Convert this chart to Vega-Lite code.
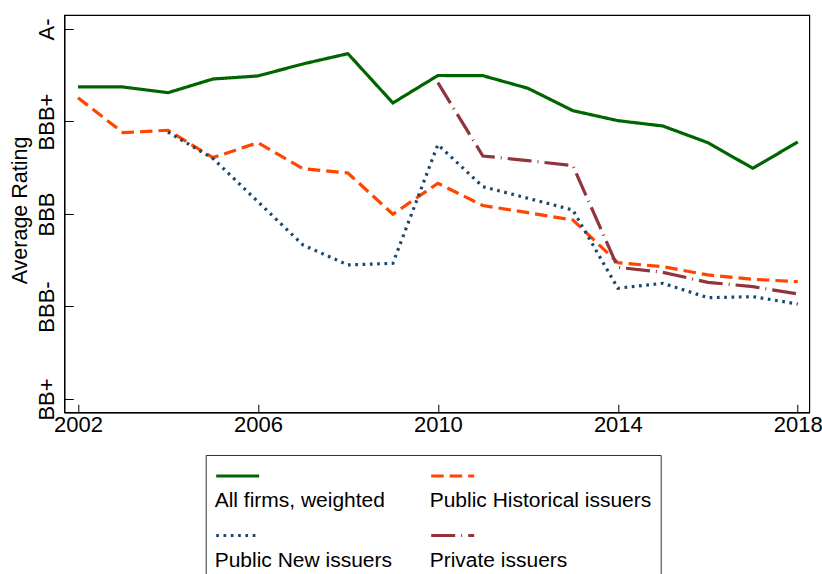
{
  "$schema": "https://vega.github.io/schema/vega-lite/v6.json",
  "autosize": {"type": "none"},
  "padding": {"left": 64.3, "top": 15, "right": 12.5, "bottom": 162},
  "width": 745,
  "height": 397.3,
  "config": {
    "font": "Liberation Sans",
    "view": {"stroke": "#000", "strokeWidth": 1.2},
    "axis": {"grid": false, "domainColor": "#000", "tickColor": "#000", "labelColor": "#000", "titleColor": "#000", "labelFont": "Liberation Sans", "titleFont": "Liberation Sans", "titleFontWeight": "normal"}
  },
  "data": {
    "values": [
      {"year": 2002, "series": "All firms, weighted", "rating": 4.373},
      {"year": 2003, "series": "All firms, weighted", "rating": 4.373},
      {"year": 2004, "series": "All firms, weighted", "rating": 4.311},
      {"year": 2005, "series": "All firms, weighted", "rating": 4.459},
      {"year": 2006, "series": "All firms, weighted", "rating": 4.492},
      {"year": 2007, "series": "All firms, weighted", "rating": 4.622},
      {"year": 2008, "series": "All firms, weighted", "rating": 4.733},
      {"year": 2009, "series": "All firms, weighted", "rating": 4.2},
      {"year": 2010, "series": "All firms, weighted", "rating": 4.497},
      {"year": 2011, "series": "All firms, weighted", "rating": 4.495},
      {"year": 2012, "series": "All firms, weighted", "rating": 4.359},
      {"year": 2013, "series": "All firms, weighted", "rating": 4.117},
      {"year": 2014, "series": "All firms, weighted", "rating": 4.009},
      {"year": 2015, "series": "All firms, weighted", "rating": 3.951},
      {"year": 2016, "series": "All firms, weighted", "rating": 3.771},
      {"year": 2017, "series": "All firms, weighted", "rating": 3.494},
      {"year": 2018, "series": "All firms, weighted", "rating": 3.778},
      {"year": 2002, "series": "Public Historical issuers", "rating": 4.257},
      {"year": 2003, "series": "Public Historical issuers", "rating": 3.879},
      {"year": 2004, "series": "Public Historical issuers", "rating": 3.905},
      {"year": 2005, "series": "Public Historical issuers", "rating": 3.609},
      {"year": 2006, "series": "Public Historical issuers", "rating": 3.771},
      {"year": 2007, "series": "Public Historical issuers", "rating": 3.49},
      {"year": 2008, "series": "Public Historical issuers", "rating": 3.443},
      {"year": 2009, "series": "Public Historical issuers", "rating": 2.997},
      {"year": 2010, "series": "Public Historical issuers", "rating": 3.332},
      {"year": 2011, "series": "Public Historical issuers", "rating": 3.091},
      {"year": 2012, "series": "Public Historical issuers", "rating": 3.014},
      {"year": 2013, "series": "Public Historical issuers", "rating": 2.935},
      {"year": 2014, "series": "Public Historical issuers", "rating": 2.474},
      {"year": 2015, "series": "Public Historical issuers", "rating": 2.43},
      {"year": 2016, "series": "Public Historical issuers", "rating": 2.341},
      {"year": 2017, "series": "Public Historical issuers", "rating": 2.294},
      {"year": 2018, "series": "Public Historical issuers", "rating": 2.268},
      {"year": 2004, "series": "Public New issuers", "rating": 3.886},
      {"year": 2005, "series": "Public New issuers", "rating": 3.6},
      {"year": 2006, "series": "Public New issuers", "rating": 3.133},
      {"year": 2007, "series": "Public New issuers", "rating": 2.665},
      {"year": 2008, "series": "Public New issuers", "rating": 2.449},
      {"year": 2009, "series": "Public New issuers", "rating": 2.467},
      {"year": 2010, "series": "Public New issuers", "rating": 3.75},
      {"year": 2011, "series": "Public New issuers", "rating": 3.295},
      {"year": 2012, "series": "Public New issuers", "rating": 3.17},
      {"year": 2013, "series": "Public New issuers", "rating": 3.043},
      {"year": 2014, "series": "Public New issuers", "rating": 2.197},
      {"year": 2015, "series": "Public New issuers", "rating": 2.251},
      {"year": 2016, "series": "Public New issuers", "rating": 2.095},
      {"year": 2017, "series": "Public New issuers", "rating": 2.106},
      {"year": 2018, "series": "Public New issuers", "rating": 2.027},
      {"year": 2010, "series": "Private issuers", "rating": 4.42},
      {"year": 2011, "series": "Private issuers", "rating": 3.627},
      {"year": 2012, "series": "Private issuers", "rating": 3.577},
      {"year": 2013, "series": "Private issuers", "rating": 3.522},
      {"year": 2014, "series": "Private issuers", "rating": 2.423},
      {"year": 2015, "series": "Private issuers", "rating": 2.369},
      {"year": 2016, "series": "Private issuers", "rating": 2.261},
      {"year": 2017, "series": "Private issuers", "rating": 2.214},
      {"year": 2018, "series": "Private issuers", "rating": 2.135}
    ]
  },
  "mark": {"type": "line", "strokeWidth": 3.2, "strokeCap": "butt", "strokeJoin": "miter"},
  "encoding": {
    "x": {
      "field": "year", "type": "quantitative",
      "scale": {"domain": [2001.696, 2018.256], "nice": false, "zero": false},
      "axis": {"values": [2002, 2006, 2010, 2014, 2018], "format": "d", "title": null, "tickSize": -8, "labelPadding": 10, "labelFontSize": 22, "labelBaseline": "top", "labelFlush": false, "labelOverlap": false, "labelBound": false, "domainWidth": 1.2}
    },
    "y": {
      "field": "rating", "type": "quantitative",
      "scale": {"domain": [0.856, 5.151], "nice": false, "zero": false},
      "axis": {"values": [1, 2, 3, 4, 5], "labelExpr": "datum.value == 1 ? 'BB+' : datum.value == 2 ? 'BBB-' : datum.value == 3 ? 'BBB' : datum.value == 4 ? 'BBB+' : 'A-'", "title": "Average Rating", "titleFontSize": 21.5, "titleAngle": -90, "titleBaseline": "alphabetic", "titleAlign": "center", "titleX": -37.8, "titleY": 195, "tickSize": -9, "labelPadding": 20.3, "labelFontSize": 22, "labelAngle": -90, "labelAlign": "center", "labelBaseline": "alphabetic", "labelOverlap": false, "labelFlush": false, "labelBound": false, "domainWidth": 1.2}
    },
    "color": {
      "field": "series", "type": "nominal",
      "scale": {"domain": ["All firms, weighted", "Public Historical issuers", "Public New issuers", "Private issuers"], "range": ["#006400", "#ff4500", "#1a476f", "#90353b"]},
      "legend": {
        "orient": "none", "legendX": 141.4, "legendY": 440, "direction": "horizontal", "columns": 2,
        "title": " ", "titleFontSize": 12, "titlePadding": 0,
        "padding": 9, "strokeColor": "#333", "fillColor": "#fff",
        "columnPadding": 32, "rowPadding": 18.6, "gridAlign": "each",
        "symbolType": "stroke", "symbolSize": 1849, "symbolStrokeWidth": 3,
        "labelFont": "Liberation Sans", "labelFontSize": 21, "labelColor": "#000", "labelBaseline": "alphabetic", "labelAlign": "left", "labelLimit": 400,
        "encode": {"labels": {"update": {"x": {"value": 0}, "y": {"value": 31}}}, "symbols": {"update": {"y": {"value": 0}}}}
      }
    },
    "strokeDash": {
      "field": "series", "type": "nominal",
      "scale": {"domain": ["All firms, weighted", "Public Historical issuers", "Public New issuers", "Private issuers"], "range": [[1, 0], [12.5, 6], [2.7, 4.6], [24, 6, 1, 6]]},
      "legend": {
        "orient": "none", "legendX": 141.4, "legendY": 440, "direction": "horizontal", "columns": 2,
        "title": " ", "titleFontSize": 12, "titlePadding": 0,
        "padding": 9, "strokeColor": "#333", "fillColor": "#fff",
        "columnPadding": 32, "rowPadding": 18.6, "gridAlign": "each",
        "symbolType": "stroke", "symbolSize": 1849, "symbolStrokeWidth": 3,
        "labelFont": "Liberation Sans", "labelFontSize": 21, "labelColor": "#000", "labelBaseline": "alphabetic", "labelAlign": "left", "labelLimit": 400,
        "encode": {"labels": {"update": {"x": {"value": 0}, "y": {"value": 31}}}, "symbols": {"update": {"y": {"value": 0}}}}
      }
    }
  }
}
